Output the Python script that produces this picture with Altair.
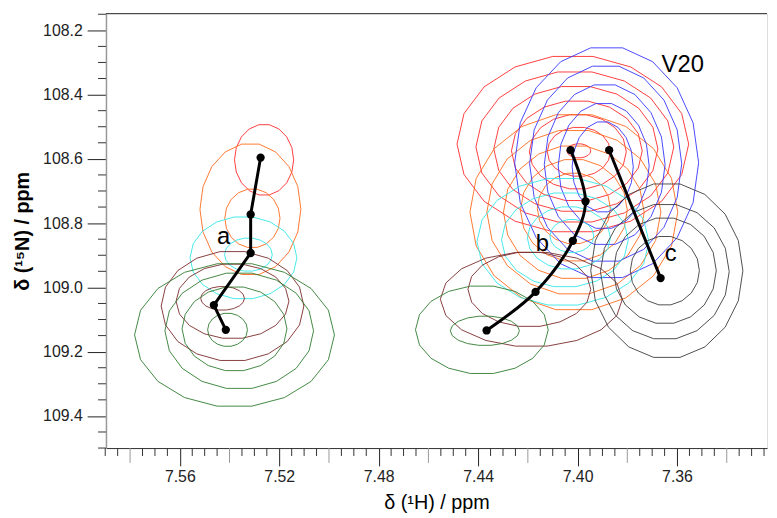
import numpy as np
import pandas as pd
import altair as alt

# ---------------- data (ppm) ----------------
# contour rings: sample colour key, centre (1H, 15N) and semi-axes (1H, 15N)
ring_sample = ["red", "orange", "orange", "cyan", "cyan", "brown", "brown", "brown",
               "green", "green", "green", "green",
               "red", "red", "red", "red", "red", "red", "red",
               "orange", "orange", "orange", "orange", "orange",
               "blue", "blue", "blue", "blue", "blue",
               "cyan", "cyan", "cyan", "cyan",
               "brown", "brown", "green", "green",
               "gray", "gray", "gray", "gray"]
ring_cx = [7.5261, 7.5316, 7.5308, 7.5344, 7.5324, 7.5388, 7.5388, 7.5428,
           7.5380, 7.5361, 7.5380, 7.5408,
           7.4019, 7.4011, 7.4007, 7.4003, 7.3999, 7.3995, 7.3995,
           7.4015, 7.4015, 7.4015, 7.4015, 7.4015,
           7.3883, 7.3887, 7.3891, 7.3895, 7.3899,
           7.4059, 7.4051, 7.4035, 7.4023,
           7.4186, 7.4194, 7.4385, 7.4373,
           7.3649, 7.3649, 7.3649, 7.3641]
ring_cy = [108.603, 108.757, 108.785, 108.908, 108.898, 109.058, 109.043, 109.034,
           109.148, 109.135, 109.129, 109.132,
           108.554, 108.563, 108.569, 108.575, 108.578, 108.578, 108.575,
           108.766, 108.766, 108.766, 108.760, 108.754,
           108.612, 108.615, 108.618, 108.622, 108.625,
           108.858, 108.852, 108.846, 108.840,
           109.037, 109.006, 109.132, 109.135,
           108.948, 108.948, 108.951, 108.948]
ring_rx = [0.0119, 0.0203, 0.0111, 0.0215, 0.0096, 0.0287, 0.0227, 0.0088,
           0.0402, 0.0299, 0.0211, 0.0080,
           0.0466, 0.0398, 0.0330, 0.0263, 0.0195, 0.0127, 0.0048,
           0.0418, 0.0350, 0.0283, 0.0215, 0.0147,
           0.0370, 0.0306, 0.0243, 0.0183, 0.0123,
           0.0346, 0.0255, 0.0167, 0.0088,
           0.0366, 0.0247, 0.0267, 0.0139,
           0.0139, 0.0207, 0.0259, 0.0306]
ring_ry = [0.111, 0.206, 0.092, 0.129, 0.052, 0.172, 0.117, 0.037,
           0.225, 0.182, 0.132, 0.052,
           0.277, 0.237, 0.197, 0.157, 0.117, 0.077, 0.022,
           0.308, 0.258, 0.209, 0.160, 0.111,
           0.363, 0.308, 0.252, 0.197, 0.142,
           0.200, 0.148, 0.098, 0.052,
           0.148, 0.117, 0.138, 0.046,
           0.108, 0.166, 0.212, 0.274]

sample_keys = ["green", "brown", "cyan", "orange", "red", "blue", "gray"]
sample_colors = ["#2f7a2f", "#7a2a2a", "#33e6e6", "#ff6a1a", "#ff2a2a", "#3535ff", "#3c3c3c"]

# peak trajectories
traj_a_h = [7.5275, 7.5315, 7.5315, 7.5463, 7.5415]
traj_a_n = [108.596, 108.773, 108.893, 109.055, 109.132]
traj_b_h = [7.4028, 7.3968, 7.4019, 7.4169, 7.4366]
traj_b_n = [108.573, 108.732, 108.855, 109.014, 109.134]
traj_c_h = [7.3873, 7.3666]
traj_c_n = [108.573, 108.971]

# annotations
label_text = ["a", "b", "c", "V20"]
label_h = [7.5424, 7.4142, 7.3625, 7.3577]
label_n = [108.843, 108.865, 108.895, 108.308]

# axis ticks
x_major = [7.56, 7.52, 7.48, 7.44, 7.40, 7.36]
x_medium = [7.58, 7.54, 7.50, 7.46, 7.42, 7.38, 7.34]
x_minor = [round(7.325 + 0.005 * i, 3) for i in range(54)]
y_major = [108.2, 108.4, 108.6, 108.8, 109.0, 109.2, 109.4]
y_minor = [round(108.15 + 0.05 * i, 2) for i in range(28)]

# ---------------- build tables ----------------
N = 18
rows = []
for i, (s, cx, cy, rx, ry) in enumerate(zip(ring_sample, ring_cx, ring_cy, ring_rx, ring_ry)):
    for k in range(N + 1):
        t = 2 * np.pi * k / N
        rows.append(dict(ring=i, sample=s, k=k, x=cx + rx * np.cos(t), y=cy + ry * np.sin(t)))
rings = pd.DataFrame(rows)

def traj(name, hs, ns):
    return pd.DataFrame(dict(path=name, step=list(range(len(hs))), x=hs, y=ns))

ta = traj("a", traj_a_h, traj_a_n)
tb = traj("b", traj_b_h, traj_b_n)
tc = traj("c", traj_c_h, traj_c_n)
pts = pd.concat([ta, tb, tc])
labels = pd.DataFrame(dict(t=label_text, x=label_h, y=label_n))

xmn = pd.DataFrame(dict(x=[v for v in x_minor if v not in x_major and v not in x_medium]))
xmd = pd.DataFrame(dict(x=x_medium))
ymn = pd.DataFrame(dict(y=[v for v in y_minor if v not in y_major]))

W, H = 668, 439
FONT = "Liberation Sans"

xs = alt.Scale(domain=[7.3238, 7.5897], reverse=True, nice=False, zero=False)
ys = alt.Scale(domain=[108.148, 109.5], reverse=True, nice=False, zero=False)

xaxis = alt.Axis(values=x_major, format=".2f", tickSize=18, tickColor="#222",
                 domainColor="#333", labelFontSize=16, labelColor="#222", labelFont=FONT,
                 labelPadding=3, title="δ  (¹H) / ppm", titleFont=FONT, titleFontSize=20,
                 titleFontWeight="normal", titleColor="#000", titlePadding=8, grid=False,
                 labelFlush=False, labelOverlap=False)
yaxis = alt.Axis(values=y_major, format=".1f", tickSize=19, tickColor="#222",
                 domainColor="#999", domainWidth=1.5, labelFontSize=16, labelColor="#222",
                 labelFont=FONT, labelPadding=5, title="δ  (¹⁵N) / ppm", titleFont=FONT,
                 titleFontSize=20, titleFontWeight="bold", titleColor="#000", titlePadding=10,
                 grid=False, labelFlush=False, labelOverlap=False)

X = alt.X("x:Q", scale=xs, axis=xaxis)
Y = alt.Y("y:Q", scale=ys, axis=yaxis)

contours = alt.Chart(rings).mark_line(strokeWidth=1, clip=True, opacity=0.9).encode(
    x=X, y=Y,
    detail="ring:N",
    order="k:Q",
    color=alt.Color("sample:N", scale=alt.Scale(domain=sample_keys, range=sample_colors), legend=None),
)

def line_layer(df, interp):
    return alt.Chart(df).mark_line(color="black", strokeWidth=3, interpolate=interp).encode(
        x=X, y=Y, order="step:Q")

lines = line_layer(ta, "linear") + line_layer(tb, "catmull-rom") + line_layer(tc, "linear")

dots = alt.Chart(pts).mark_circle(color="black", size=70, opacity=1).encode(x=X, y=Y)

texts = alt.Chart(labels).mark_text(font=FONT, fontSize=24, color="black").encode(
    x=X, y=Y, text="t:N")

xmin_ticks = alt.Chart(xmn).mark_rule(color="#333", strokeWidth=1).encode(
    x=X, y=alt.value(H), y2=alt.value(H + 8))
xmed_ticks = alt.Chart(xmd).mark_rule(color="#999", strokeWidth=1).encode(
    x=X, y=alt.value(H), y2=alt.value(H + 15))
ymin_ticks = alt.Chart(ymn).mark_rule(color="#333", strokeWidth=1).encode(
    y=Y, x=alt.value(0), x2=alt.value(-8))

top_border = alt.Chart(pd.DataFrame(dict(v=[0]))).mark_rule(color="#333", strokeWidth=1).encode(
    x=alt.value(0), x2=alt.value(W), y=alt.value(0))

chart = alt.layer(contours, lines, dots, texts, xmin_ticks, xmed_ticks, ymin_ticks, top_border).properties(
    width=W, height=H,
    autosize=alt.AutoSizeParams(type="none"),
    padding={"left": 99, "top": 3, "right": 2, "bottom": 68},
).configure_view(stroke=None).configure(background="white")

chart.save("out.html", embed_options={"renderer": "svg", "actions": False})
